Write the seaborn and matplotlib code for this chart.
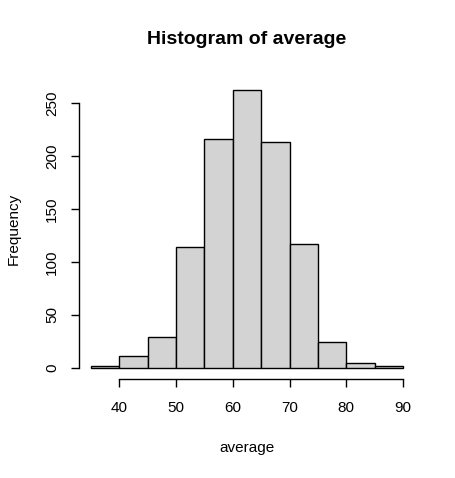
import matplotlib
matplotlib.use("Agg")
import matplotlib.pyplot as plt
import seaborn as sns
import numpy as np

# histogram of "average" (5-point bins, R hist() look)
bin_edges = [35, 40, 45, 50, 55, 60, 65, 70, 75, 80, 85, 90]
counts = [2, 11, 29, 114, 216, 263, 213, 117, 24, 5, 2]
x_ticks = [40, 50, 60, 70, 80, 90]
y_ticks = [0, 50, 100, 150, 200, 250]

sns.set_style("white")
plt.rcParams['font.family'] = ['Liberation Sans', 'DejaVu Sans']
plt.rcParams['text.color'] = 'black'
plt.rcParams['axes.labelcolor'] = 'black'

W, H = 456, 478
fig = plt.figure(figsize=(W / 100, H / 100), dpi=100)
left, right, top, bottom = 78.5, 415.5, 78.4, 379.0
ax = fig.add_axes([left / W, 1 - bottom / H, (right - left) / W, (bottom - top) / H])

centers = [(a + b) / 2 for a, b in zip(bin_edges[:-1], bin_edges[1:])]
sns.histplot(x=centers, weights=counts, bins=bin_edges, color='#D3D3D3',
             edgecolor='black', linewidth=1, alpha=1, ax=ax)

# R style axis ranges (4% padding)
xr = bin_edges[-1] - bin_edges[0]
ax.set_xlim(bin_edges[0] - 0.04 * xr, bin_edges[-1] + 0.04 * xr)
ymax = max(counts)
ax.set_ylim(-0.04 * ymax, ymax * 1.04)

ax.set_xticks(x_ticks)
ax.set_yticks(y_ticks)
for s in ['top', 'right']:
    ax.spines[s].set_visible(False)
ax.spines['left'].set_bounds(y_ticks[0], y_ticks[-1])
ax.spines['bottom'].set_bounds(x_ticks[0], x_ticks[-1])
for s in ['left', 'bottom']:
    ax.spines[s].set_color('black')
    ax.spines[s].set_linewidth(1)

ax.tick_params(axis='both', direction='out', length=6, width=1, color='black',
               labelsize=11, labelcolor='black', left=True, bottom=True)
ax.tick_params(axis='x', pad=10)
ax.tick_params(axis='y', pad=8)
for lab in ax.get_yticklabels():
    lab.set_rotation(90)
    lab.set_va('center')

ax.set_xlabel('average', fontsize=11)
ax.set_ylabel('Frequency', fontsize=11)
ax.xaxis.set_label_coords(0.5, (bottom - 448) / (bottom - top))
ax.xaxis.label.set_va('center')
ax.yaxis.set_label_coords((14 - left) / (right - left), 0.5)
ax.yaxis.label.set_va('center')
fig.text((left + right) / 2 / W, 1 - 40 / H, 'Histogram of average',
         fontsize=14, fontweight='bold', ha='center', va='center')

fig.savefig('out.png', dpi=100)
